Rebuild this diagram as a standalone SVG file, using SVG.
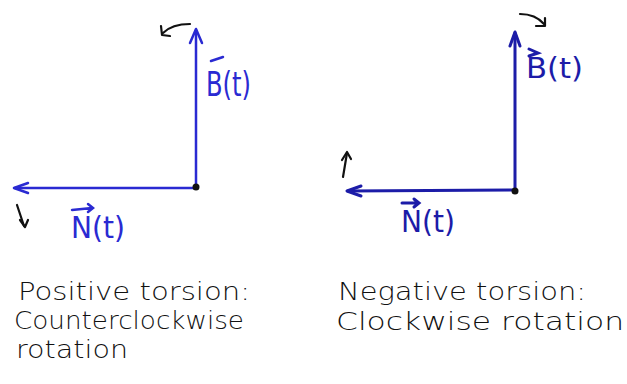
<svg xmlns="http://www.w3.org/2000/svg" width="627" height="384" viewBox="0 0 627 384">
<style>
.vec{stroke:#2a2ad2;stroke-width:2.5;fill:none;stroke-linecap:round}
.vec2{stroke:#1c1ca8;stroke-width:3;fill:none;stroke-linecap:round}
.head{stroke-linejoin:round}
.rot{stroke:#111;stroke-width:2.2;fill:none;stroke-linecap:round;stroke-linejoin:round}
.lbl{font-family:"DejaVu Sans","Liberation Sans",sans-serif;fill:#2a2ad2}
.lbl2{font-family:"DejaVu Sans","Liberation Sans",sans-serif;fill:#1c1ca8}
.cap{font-family:"DejaVu Sans","Liberation Sans",sans-serif;font-size:25px;fill:#111;font-weight:300}
</style>
<rect width="627" height="384" fill="#fff"/>
<g id="connectors">
  <!-- left panel -->
  <path class="vec" d="M196,187 L196,30"/>
  <path class="vec head" d="M190,43 L196,29 L202,43"/>
  <path class="vec" d="M196,188 L15,188"/>
  <path class="vec head" d="M28,183 L14,188 L28,193"/>
  <path class="rot" d="M190,24 C180,24 170,26 163,33"/>
  <path class="rot" d="M161,26 L162,35 L170,36"/>
  <path class="rot" d="M17,205 L24,226"/>
  <path class="rot" d="M20,220 L25,227 L28,220"/>
  <!-- right panel -->
  <path class="vec2" d="M515,190 L515,33"/>
  <path class="vec2 head" d="M510,46 L515,32 L520,46"/>
  <path class="vec2" d="M515,190 L348,191"/>
  <path class="vec2 head" d="M361,186 L347,191 L361,196"/>
  <path class="rot" d="M520,14 C530,14 538,17 544,24"/>
  <path class="rot" d="M536,26 L545,26 L545,18"/>
  <path class="rot" d="M343,177 L347,153"/>
  <path class="rot" d="M342,160 L347,152 L351,159"/>
</g>
<g id="origin-left"><circle cx="196" cy="187" r="3.5" fill="#111"/></g>
<g id="origin-right"><circle cx="515" cy="191" r="3.5" fill="#111"/></g>
<g id="label-B-left">
  <text class="lbl" x="206" y="96" font-size="33" textLength="45" lengthAdjust="spacingAndGlyphs">B(t)</text>
  <path class="vec" d="M211,61 L223,57" stroke-width="2"/>
</g>
<g id="label-N-left">
  <text class="lbl" x="71" y="238" font-size="31" textLength="54" lengthAdjust="spacingAndGlyphs">N(t)</text>
  <path class="vec" d="M72,210 L92,208 M88,204 L93,208 L88,212" stroke-width="2"/>
</g>
<g id="label-B-right">
  <text class="lbl2" x="526" y="78" font-size="29" textLength="57" lengthAdjust="spacingAndGlyphs">B(t)</text>
  <path class="vec2" d="M529,49 L538,53 L529,56" stroke-width="2"/>
</g>
<g id="label-N-right">
  <text class="lbl2" x="401" y="232" font-size="31" textLength="54" lengthAdjust="spacingAndGlyphs">N(t)</text>
  <path class="vec2" d="M402,203 L418,203 M414,199 L419,203 L414,207" stroke-width="2"/>
</g>
<g id="caption-left">
  <text class="cap" x="18" y="300" textLength="232" lengthAdjust="spacingAndGlyphs">Positive torsion:</text>
  <text class="cap" x="14" y="329" textLength="230" lengthAdjust="spacingAndGlyphs">Counterclockwise</text>
  <text class="cap" x="16" y="358" textLength="112" lengthAdjust="spacingAndGlyphs">rotation</text>
</g>
<g id="caption-right">
  <text class="cap" x="338" y="300" textLength="248" lengthAdjust="spacingAndGlyphs">Negative torsion:</text>
  <text class="cap" x="336" y="330" textLength="288" lengthAdjust="spacingAndGlyphs">Clockwise rotation</text>
</g>
</svg>
